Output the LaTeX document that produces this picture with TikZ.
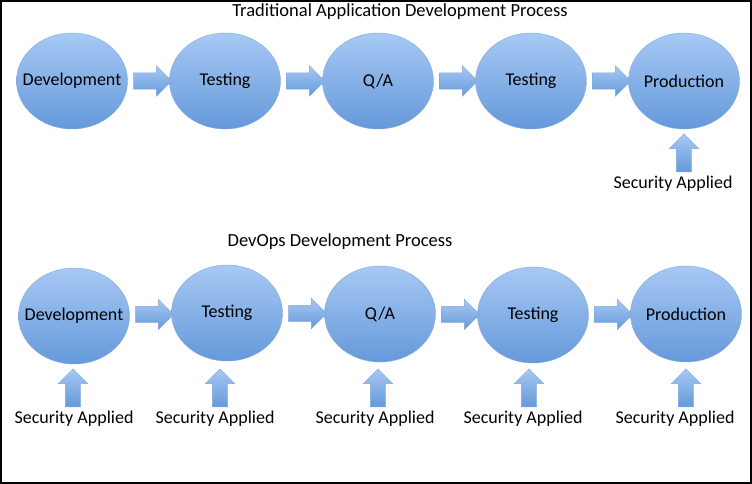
\documentclass[tikz,border=0pt]{standalone}
\usepackage{fontspec}
\setmainfont{Carlito}
\usetikzlibrary{shapes.geometric,shapes.arrows,calc}

\definecolor{ovaltop}{HTML}{A7C9F4}
\definecolor{ovalbot}{HTML}{6599DA}
\definecolor{ovalline}{HTML}{7FA7DA}

\tikzset{
  stage/.style={ellipse, draw=ovalline, top color=ovaltop, bottom color=ovalbot,
    minimum width=111pt, minimum height=96pt, inner xsep=-15pt, inner ysep=0pt,
    font=\fontsize{18}{20}\selectfont},
  flow/.style={single arrow, draw=ovalline, top color=ovaltop, bottom color=ovalbot,
    inner sep=0pt, text height=16pt, text depth=0pt, text width=0pt,
    single arrow head extend=7pt, minimum height=38pt},
  upflow/.style={flow, shape border rotate=90, text height=0pt, text width=15pt, anchor=tail},
  secure/.style={font=\fontsize{18}{20}\selectfont, inner sep=1pt},
  heading/.style={font=\fontsize{18.5}{20}\selectfont}
}

\begin{document}
\begin{tikzpicture}[x=1pt, y=-1pt]
  \useasboundingbox (0,0) rectangle (752,484);
  \draw[line width=2pt] (1,1) rectangle (751,483);

  % traditional process
  \node[heading] (tradtitle) at (400,12) {Traditional Application Development Process};
  \foreach \t [count=\i] in {Development,Testing,{Q/A},Testing,Production}
    \node[stage] (tr\i) at ({72+153*(\i-1)},81) {\t};
  \foreach \i [evaluate=\i as \j using int(\i+1)] in {1,...,4}
    \node[flow] (tra\i) at ($(tr\i.east)!0.5!(tr\j.west)$) {};
  \node[secure] (trsec) at (673,184) {Security Applied};
  \node[upflow] (trup) at ([xshift=11pt, yshift=3pt]trsec.north) {};

  % devops process
  \node[heading] (devtitle) at (340,242) {DevOps Development Process};
  \foreach \t/\y [count=\i] in {Development/316,Testing/313,{Q/A}/314,Testing/315,Production/314}
    \node[stage] (do\i) at ({74+153*(\i-1)},\y) {\t};
  \foreach \i [evaluate=\i as \j using int(\i+1)] in {1,...,4}
    \node[flow] (doa\i) at ($(do\i.east)!0.5!(do\j.west)$) {};
  \foreach \x/\s [count=\i] in {74/-1,215/5,375/3,523/6,675/11} {
    \node[secure] (dosec\i) at (\x,419) {Security Applied};
    \node[upflow] (doup\i) at ([xshift=\s pt, yshift=3pt]dosec\i.north) {};
  }
\end{tikzpicture}
\end{document}
